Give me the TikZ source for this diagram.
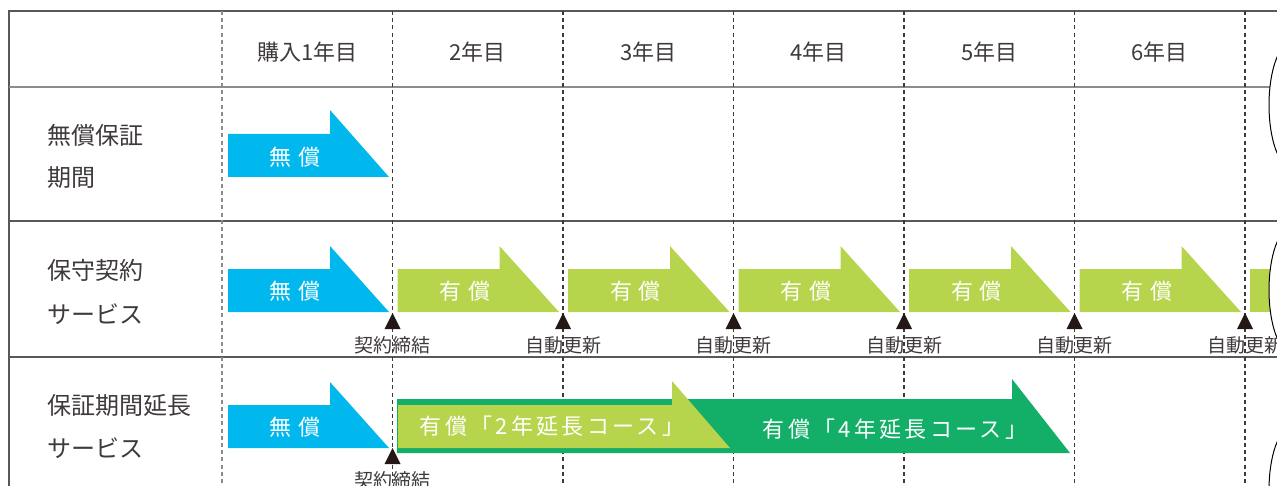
\documentclass[tikz,border=0pt]{standalone}
\usepackage{fontspec}
\setmainfont{Noto Sans CJK JP}
\newfontfamily\barfont[LetterSpace=15]{Noto Sans CJK JP}
\usetikzlibrary{calc,positioning}
\definecolor{freeblue}{HTML}{00B8EE}
\definecolor{paidgreen}{HTML}{B7D54C}
\definecolor{longgreen}{HTML}{13AE67}
\definecolor{inkgray}{HTML}{3E3A39}
\definecolor{framegray}{HTML}{595757}
\definecolor{headgray}{HTML}{8C8C8C}
\definecolor{markblack}{HTML}{231815}

\begin{document}
\begin{tikzpicture}[x=0.5pt,y=-0.5pt,line cap=butt]
      \useasboundingbox (0,0) rectangle (1277,486);

      \coordinate (TL) at (9,11);
      \coordinate (TR) at (1277,11);
      \coordinate (BL) at (9,486);
      \coordinate (HL) at (9,87);
      \coordinate (HR) at (1277,87);
      \coordinate (AL) at (9,221);
      \coordinate (AR) at (1277,221);
      \coordinate (CL) at (9,357);
      \coordinate (CR) at (1277,357);
      \tikzstyle{myframe}=[line width=0.65pt, draw=framegray];
      \draw[myframe] (TR) -- (TL) -- (BL);
      \draw[myframe, draw=headgray, line width=0.8pt] (HL) -- (HR);
      \draw[myframe] (AL) -- (AR);
      \draw[myframe] (CL) -- (CR);

      \coordinate (K0) at (222.0,11);
      \coordinate (K1) at (392.5,11);
      \coordinate (K2) at (563.0,11);
      \coordinate (K3) at (733.5,11);
      \coordinate (K4) at (904.0,11);
      \coordinate (K5) at (1074.5,11);
      \coordinate (K6) at (1245.0,11);
      \tikzstyle{yeardash}=[line width=0.6pt, draw=inkgray, dash pattern=on 2pt off 1.6pt];
      \draw[yeardash, draw=headgray] (K0) -- ++(0,475);
      \draw[yeardash] (K1) -- ++(0,475);
      \draw[yeardash] (K2) -- ++(0,475);
      \draw[yeardash] (K3) -- ++(0,475);
      \draw[yeardash] (K4) -- ++(0,475);
      \draw[yeardash] (K5) -- ++(0,475);
      \draw[yeardash] (K6) -- ++(0,475);

      % free period
      \tikzstyle{freebar}=[fill=freeblue];
      \tikzstyle{paidbar}=[fill=paidgreen];
      \tikzstyle{longbar}=[fill=longgreen];
      \fill[freebar] (228,134) -- (330,134) -- (330,110) -- (389,177) -- (228,177) -- cycle;

      % maintenance contract
      \fill[freebar] (228,269) -- (330,269) -- (330,246) -- (389,312) -- (228,312) -- cycle;
      \fill[paidbar] (397.5,269) -- (499.5,269) -- (499.5,246) -- (559,312) -- (397.5,312) -- cycle;
      \fill[paidbar] (568,269) -- (670,269) -- (670,246) -- (729.5,312) -- (568,312) -- cycle;
      \fill[paidbar] (738.5,269) -- (840.5,269) -- (840.5,246) -- (900,312) -- (738.5,312) -- cycle;
      \fill[paidbar] (909,269) -- (1011,269) -- (1011,246) -- (1070.5,312) -- (909,312) -- cycle;
      \fill[paidbar] (1079.5,269) -- (1181.5,269) -- (1181.5,246) -- (1241,312) -- (1079.5,312) -- cycle;
      \fill[paidbar] (1250,269) rectangle (1295,312);

      % extended warranty
      \fill[freebar] (228,405) -- (330,405) -- (330,382) -- (389,448) -- (228,448) -- cycle;
      \fill[longbar] (397,399) -- (1012,399) -- (1012,379) -- (1070,453) -- (397,453) -- cycle;
      \fill[paidbar] (398,405) -- (672,405) -- (672,381) -- (730,448) -- (398,448) -- cycle;

      \tikzstyle{breakmark}=[draw=black, fill=white, line width=0.5pt];
      \draw[breakmark] (1291,105) ellipse [x radius=22, y radius=62];
      \draw[breakmark] (1291,290) ellipse [x radius=22, y radius=62];
      \draw[breakmark] (1291,490) ellipse [x radius=22, y radius=62];

      \tikzstyle{yearlabel}=[text=inkgray, font=\fontsize{11}{13}\selectfont];
      \node[yearlabel] (Y1) at (307.25,52) {購入1年目};
      \node[yearlabel] (Y2) at (477.75,52) {2年目};
      \node[yearlabel] (Y3) at (648.25,52) {3年目};
      \node[yearlabel] (Y4) at (818.75,52) {4年目};
      \node[yearlabel] (Y5) at (989.25,52) {5年目};
      \node[yearlabel] (Y6) at (1159.75,52) {6年目};

      \tikzstyle{rowlabel}=[text=inkgray, anchor=west, inner sep=0pt, font=\fontsize{12}{14}\selectfont];
      \node[rowlabel] (R1a) at (47,135) {無償保証};
      \node[rowlabel] (R1b) at (47,178) {期間};
      \node[rowlabel] (R2a) at (47,270) {保守契約};
      \node[rowlabel] (R2b) at (47,314) {サービス};
      \node[rowlabel] (R3a) at (47,405) {保証期間延長};
      \node[rowlabel] (R3b) at (47,448) {サービス};

      \tikzstyle{bartext}=[text=white, font=\fontsize{11}{13}\selectfont];
      \node[bartext] (F1) at (295,157) {無\hspace{0.3em}償};
      \node[bartext] (F2) at (295,291) {無\hspace{0.3em}償};
      \node[bartext] (P1) at (465,291) {有\hspace{0.3em}償};
      \node[bartext] (P2) at (635.5,291) {有\hspace{0.3em}償};
      \node[bartext] (P3) at (806,291) {有\hspace{0.3em}償};
      \node[bartext] (P4) at (976.5,291) {有\hspace{0.3em}償};
      \node[bartext] (P5) at (1147,291) {有\hspace{0.3em}償};
      \node[bartext] (F3) at (295,427) {無\hspace{0.3em}償};
      \node[bartext, font=\barfont\fontsize{11}{13}\selectfont] (E2) at (552,426) {有償「2年延長コース」};
      \node[bartext, font=\barfont\fontsize{11}{13}\selectfont] (E4) at (895,429) {有償「4年延長コース」};

      % contract marks
      \coordinate (S1) at (392.5,329);
      \coordinate (S2) at (563.0,329);
      \coordinate (S3) at (733.5,329);
      \coordinate (S4) at (904.0,329);
      \coordinate (S5) at (1074.5,329);
      \coordinate (S6) at (1245.0,329);
      \coordinate (S7) at (392.5,464);
      \tikzstyle{mymark}=[fill=markblack];
      \tikzstyle{marklabel}=[text=inkgray, font=\fontsize{9.5}{11}\selectfont];
      \fill[mymark] (S1) ++(-8,0) -- ++(16,0) -- ++(-8,-16) -- cycle;
      \fill[mymark] (S2) ++(-8,0) -- ++(16,0) -- ++(-8,-16) -- cycle;
      \fill[mymark] (S3) ++(-8,0) -- ++(16,0) -- ++(-8,-16) -- cycle;
      \fill[mymark] (S4) ++(-8,0) -- ++(16,0) -- ++(-8,-16) -- cycle;
      \fill[mymark] (S5) ++(-8,0) -- ++(16,0) -- ++(-8,-16) -- cycle;
      \fill[mymark] (S6) ++(-8,0) -- ++(16,0) -- ++(-8,-16) -- cycle;
      \fill[mymark] (S7) ++(-8,0) -- ++(16,0) -- ++(-8,-16) -- cycle;
      \node[marklabel, below=0pt of S1] (M1) {契約締結};
      \node[marklabel, below=0pt of S2] (M2) {自動更新};
      \node[marklabel, below=0pt of S3] (M3) {自動更新};
      \node[marklabel, below=0pt of S4] (M4) {自動更新};
      \node[marklabel, below=0pt of S5] (M5) {自動更新};
      \node[marklabel, below=0pt of S6] (M6) {自動更新};
      \node[marklabel, below=0pt of S7] (M7) {契約締結};
    \end{tikzpicture}
\end{document}
